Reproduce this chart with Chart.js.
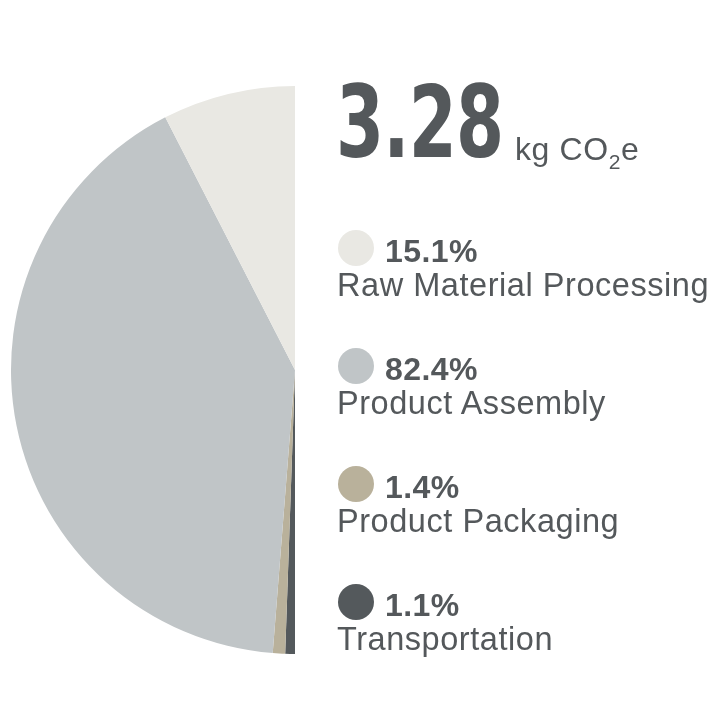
<!DOCTYPE html>
<html><head><meta charset="utf-8">
<script src="https://cdn.jsdelivr.net/npm/chart.js@4"></script>
<style>
html,body{margin:0;padding:0;background:#fff;}
#wrap{position:relative;width:728px;height:728px;overflow:hidden;}
#c{position:absolute;left:0;top:0;}
.t{position:absolute;white-space:nowrap;color:#54585b;font-family:"Liberation Sans",Arial,Helvetica,sans-serif;line-height:1;}
.big{font-family:"DejaVu Sans Condensed","DejaVu Sans",sans-serif;font-weight:bold;transform:scaleX(0.775);transform-origin:0 0;letter-spacing:-1px;}
.dot{position:absolute;border-radius:50%;}
sub{font-size:0.66em;vertical-align:baseline;position:relative;top:0.45em;}
</style></head><body>
<div id="wrap"><canvas id="c" width="728" height="728"></canvas><div id="txt"></div></div>
<script>
const categories = ["Raw Material Processing", "Product Assembly", "Product Packaging", "Transportation"];
const shares = [15.1, 82.4, 1.4, 1.1];
const colors = ["#e9e8e3", "#c0c5c7", "#b9b19b", "#54595c"];
const totalValue = "3.28";
const unitParts = ["kg CO", "2", "e"];

// Chart: left half pie, drawn from the bottom clockwise up to the top
const order = [3, 2, 1, 0];
new Chart(document.getElementById('c'), {
  type: 'pie',
  data: {
    labels: order.map(i => categories[i]),
    datasets: [{
      data: order.map(i => shares[i]),
      backgroundColor: order.map(i => colors[i]),
      borderWidth: 0
    }]
  },
  options: {
    responsive: false,
    animation: false,
    devicePixelRatio: 1,
    rotation: 180,
    circumference: 180,
    layout: { padding: { left: 11, top: 86, right: 433, bottom: 74 } },
    plugins: { legend: { display: false }, tooltip: { enabled: false } }
  }
});

// Text
const txt = document.getElementById('txt');
function addText(html, cls, left, baseline, size, weight, asc, ls) {
  const d = document.createElement('div');
  d.className = 't ' + (cls || '');
  d.style.fontSize = size + 'px';
  if (weight) d.style.fontWeight = weight;
  if (ls !== undefined) d.style.letterSpacing = ls + 'px';
  d.style.left = left + 'px';
  d.style.top = (baseline - asc * size) + 'px';
  d.innerHTML = html;
  txt.appendChild(d);
  return d;
}
addText(totalValue, 'big', 336, 165, 99, 'bold', 0.928, -1);
addText(unitParts[0] + '<sub>' + unitParts[1] + '</sub>' + unitParts[2], '', 515, 160, 32, 'normal', 0.8465, 0.6);

const firstDotY = 248, step = 118;
categories.forEach((name, i) => {
  const cy = firstDotY + i * step;
  const dot = document.createElement('div');
  dot.className = 'dot';
  dot.style.left = '338px';
  dot.style.top = (cy - 18) + 'px';
  dot.style.width = '36px';
  dot.style.height = '36px';
  dot.style.background = colors[i];
  txt.appendChild(dot);
  addText(shares[i].toFixed(1) + '%', '', 385, cy + 14, 32, 'bold', 0.8465, 0.4);
  addText(name, '', 337, cy + 49, 32.5, 'normal', 0.8465, 0.55);
});
</script>
</body></html>
